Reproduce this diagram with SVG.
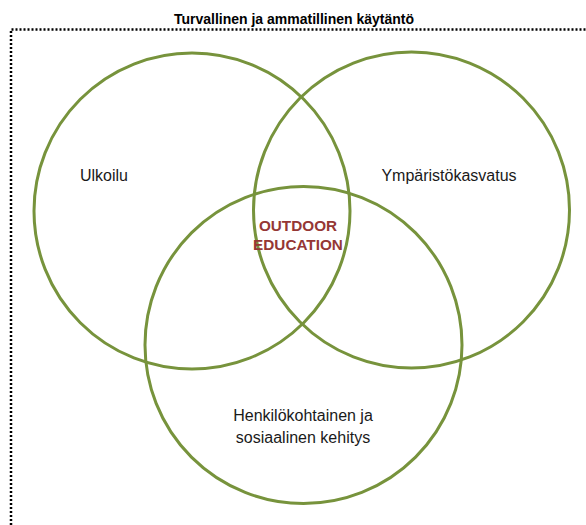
<svg xmlns="http://www.w3.org/2000/svg" width="586" height="525" viewBox="0 0 586 525">
<style>
.c{fill:none;stroke:#77933C;stroke-width:3}
.t{font-family:"Liberation Sans",Arial,sans-serif;font-size:16px;fill:#1a1a1a;text-anchor:middle}
.h{font-family:"Liberation Sans",Arial,sans-serif;font-size:15.3px;font-weight:bold;fill:#953735;text-anchor:middle}
.ti{font-family:"Liberation Sans",Arial,sans-serif;font-size:14px;font-weight:bold;fill:#000;text-anchor:middle}
</style>
<rect width="586" height="525" fill="#fff"/>
<g id="frame">
<path d="M11 525 V29.5 H586" fill="none" stroke="#000" stroke-width="2.5" stroke-dasharray="2,2"/>
<text class="ti" x="294" y="24">Turvallinen ja ammatillinen käytäntö</text>
</g>
<g id="ulkoilu">
<circle class="c" cx="192" cy="211" r="158"/>
<text class="t" x="104" y="181">Ulkoilu</text>
</g>
<g id="ymparisto">
<circle class="c" cx="411.5" cy="210" r="158"/>
<text class="t" x="449" y="181">Ympäristökasvatus</text>
</g>
<g id="henkilo">
<circle class="c" cx="303.5" cy="345" r="158.5"/>
<text class="t" x="303" y="421">Henkilökohtainen ja</text>
<text class="t" x="303" y="443">sosiaalinen kehitys</text>
</g>
<g id="outdoor">
<text class="h" x="298" y="231">OUTDOOR</text>
<text class="h" x="298" y="250">EDUCATION</text>
</g>
<g id="connectors"/>
</svg>
